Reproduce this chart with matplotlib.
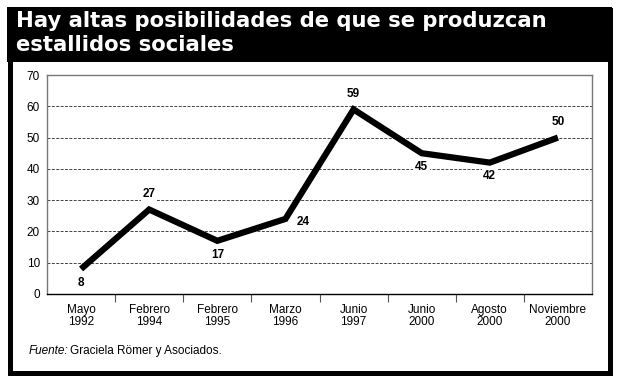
import matplotlib
matplotlib.use('Agg')
import matplotlib.pyplot as plt
from matplotlib.patches import Rectangle

plt.rcParams['font.family'] = ['Liberation Sans', 'DejaVu Sans']

# data
months = ['Mayo', 'Febrero', 'Febrero', 'Marzo', 'Junio', 'Junio', 'Agosto', 'Noviembre']
years = ['1992', '1994', '1995', '1996', '1997', '2000', '2000', '2000']
values = [8, 27, 17, 24, 59, 45, 42, 50]
# where each value label sits relative to its point
label_side = ['below', 'above', 'below', 'right', 'above', 'below', 'below', 'above']

title_lines = ['Hay altas posibilidades de que se produzcan', 'estallidos sociales']

W, H = 619, 381
fig = plt.figure(figsize=(W / 100, H / 100), dpi=100)
renderer = fig.canvas.get_renderer()


def fx(px):
    return px / W


def fy(py):
    return 1 - py / H


# black title bar and frame
fig.patches.append(Rectangle((fx(7), fy(62)), fx(605), 55 / H, transform=fig.transFigure,
                             facecolor='black', edgecolor='none', zorder=0))
fig.patches.append(Rectangle((fx(9.5), fy(372.5)), fx(600), 363 / H, transform=fig.transFigure,
                             facecolor='none', edgecolor='black', linewidth=3.6, zorder=1))

# title, sized so the first line spans about the same width as in the reference
t1 = fig.text(fx(16), fy(27), title_lines[0], color='white', fontsize=14, fontweight='bold',
              family='DejaVu Sans', va='baseline', ha='left')
w1 = t1.get_window_extent(renderer).width
tsize = 14 * 532 / w1
t1.set_fontsize(tsize)
fig.text(fx(16), fy(51), title_lines[1], color='white', fontsize=tsize, fontweight='bold',
         family='DejaVu Sans', va='baseline', ha='left')

ax = fig.add_axes([fx(47), fy(294), fx(545), 219 / H])
x = list(range(len(values)))
ax.plot(x, values, color='black', linewidth=4.5, solid_joinstyle='miter',
        solid_capstyle='butt', zorder=3)

offsets = {'above': (0, 11), 'below': (0, -10), 'right': (13, -2)}
for xi, v, side in zip(x, values, label_side):
    ax.annotate(str(v), (xi, v), xytext=offsets[side], textcoords='offset points',
                ha='center', va='center', fontsize=8.5, fontweight='bold',
                bbox=dict(facecolor='white', edgecolor='none', pad=1.2), zorder=4)

ax.set_xlim(-0.5, len(values) - 0.5)
ax.set_ylim(0, 70)
ax.set_yticks(range(0, 71, 10))
ax.tick_params(axis='y', length=0, pad=5, labelsize=8.5)
ax.set_xticks(x)
ax.set_xticklabels([m + '\n' + y for m, y in zip(months, years)], fontsize=8.5,
                   linespacing=1.05)
ax.tick_params(axis='x', which='major', length=0, pad=7)
ax.set_xticks([i + 0.5 for i in range(len(values) - 1)], minor=True)
ax.tick_params(axis='x', which='minor', length=6, width=0.8, color='#555555', direction='out')

for yv in range(10, 70, 10):
    ax.axhline(yv, color='#444444', linewidth=0.7, linestyle=(0, (3, 1.5)), zorder=1)

for side in ['left', 'top', 'right']:
    ax.spines[side].set_color('#777777')
    ax.spines[side].set_linewidth(1)
ax.spines['bottom'].set_color('black')
ax.spines['bottom'].set_linewidth(1)

# source line: italic "Fuente:" followed by the plain text
src = fig.text(fx(29), fy(354), 'Fuente:', fontsize=8.5, style='italic', va='baseline', ha='left')
src_right = src.get_window_extent(renderer).x1
fig.text((src_right + 1) / W, fy(354), 'Graciela Römer y Asociados.', fontsize=8.5,
         va='baseline', ha='left')

fig.savefig('out.png', dpi=100)
